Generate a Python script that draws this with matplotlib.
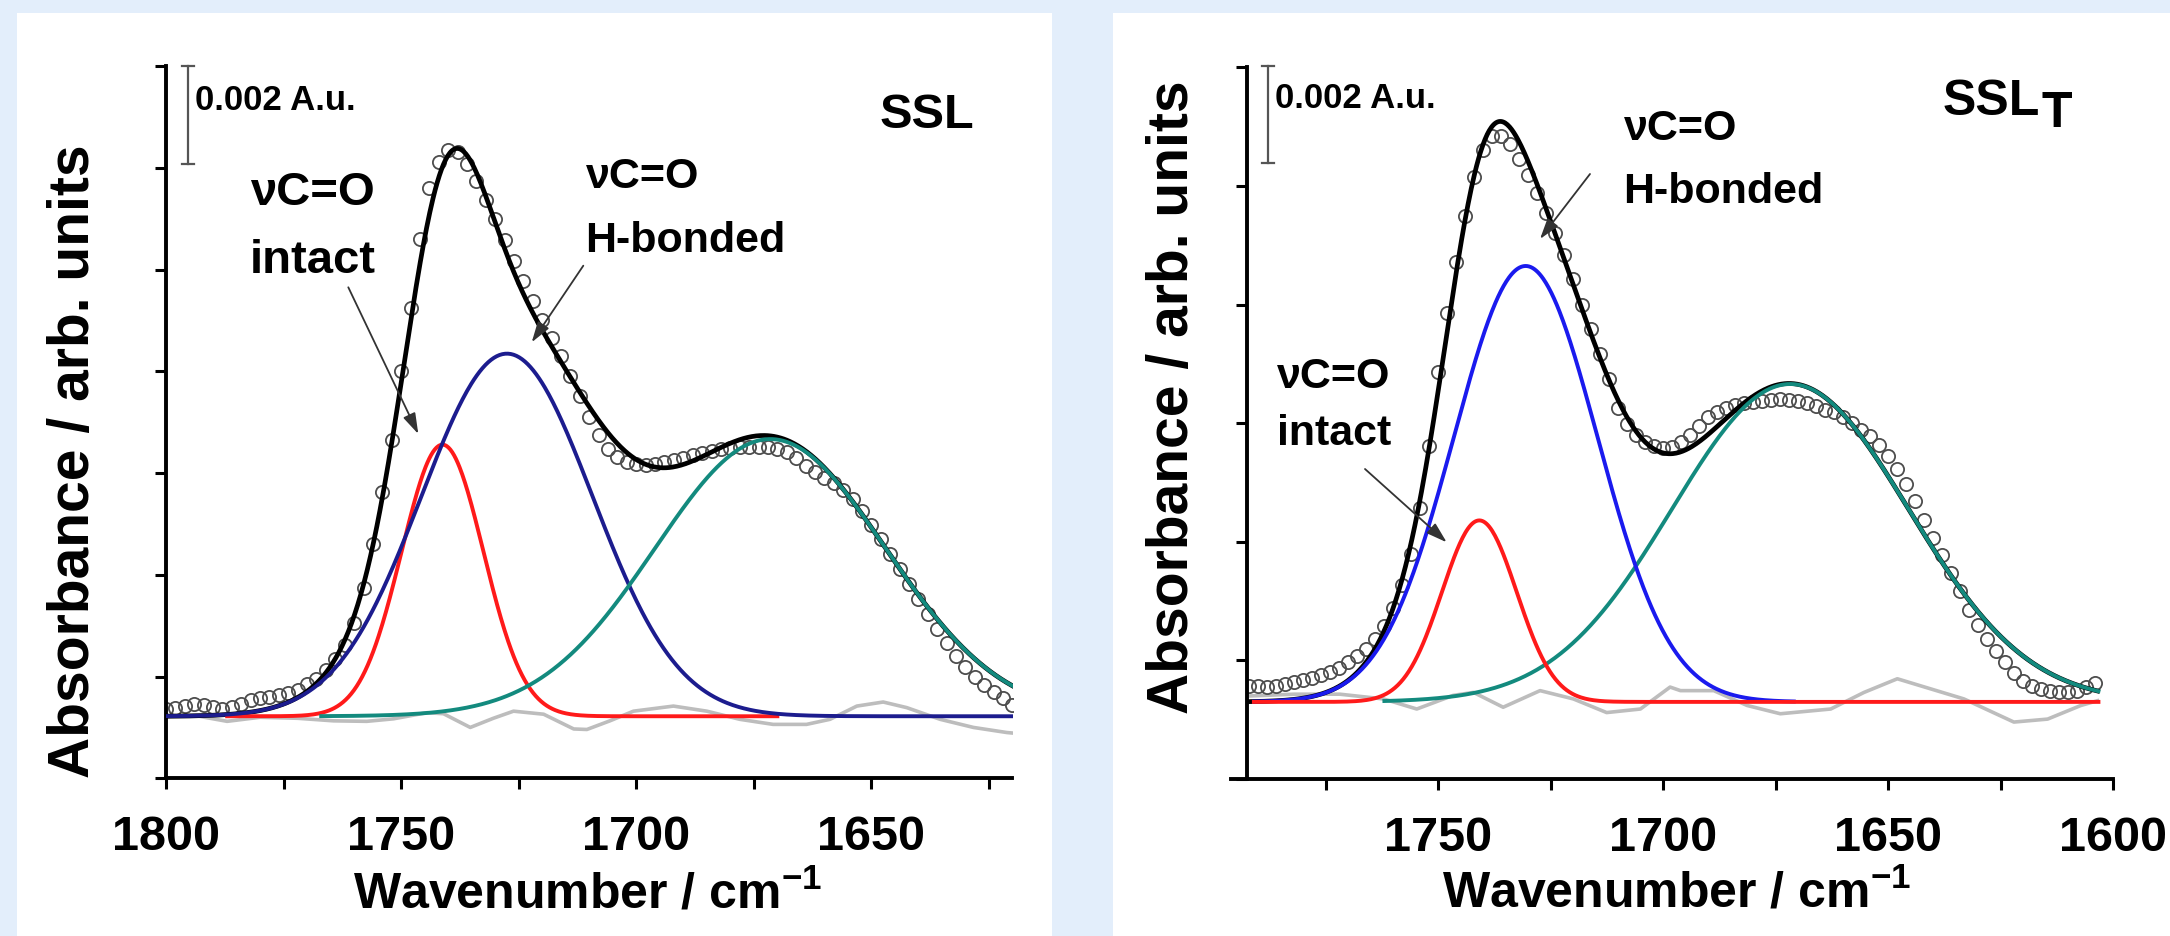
import numpy as np
import matplotlib
matplotlib.use("Agg")
import matplotlib.pyplot as plt
from matplotlib.patches import Rectangle, FancyArrowPatch
from matplotlib.lines import Line2D
from matplotlib.ticker import MultipleLocator

W, H = 2170, 937

# ---------------- SSL (left panel) ----------------
# measured spectrum (open circles), absorbance in 0.001 A.u., every 2 cm-1
ssl_wn = np.arange(1800, 1619, -2)
ssl_abs = [1.36, 1.39, 1.43, 1.46, 1.45, 1.40, 1.37, 1.40, 1.46, 1.53,
           1.58, 1.60, 1.63, 1.68, 1.74, 1.85, 1.96, 2.12, 2.34, 2.62,
           3.05, 3.75, 4.60, 5.63, 6.65, 8.00, 9.25, 10.60, 11.60, 12.12,
           12.35, 12.32, 12.08, 11.75, 11.38, 11.00, 10.58, 10.18, 9.78, 9.38,
           9.02, 8.66, 8.30, 7.92, 7.52, 7.10, 6.76, 6.48, 6.32, 6.22,
           6.18, 6.17, 6.18, 6.21, 6.25, 6.30, 6.36, 6.40, 6.43, 6.47,
           6.50, 6.51, 6.52, 6.52, 6.51, 6.48, 6.42, 6.30, 6.14, 6.02,
           5.91, 5.80, 5.67, 5.49, 5.26, 4.99, 4.70, 4.41, 4.12, 3.83,
           3.53, 3.23, 2.94, 2.67, 2.41, 2.18, 1.99, 1.84, 1.70, 1.57,
           1.45]
# residual (grey line)
ssl_res_wn = [1800, 1793, 1787, 1780, 1772, 1764.4, 1757.3, 1751.6, 1744.5, 1741,
              1735.3, 1730.4, 1726.1, 1719.7, 1713.3, 1710.5, 1705.6, 1700.6, 1692.1, 1685,
              1678, 1670.9, 1663.8, 1658.8, 1653.1, 1647.5, 1642.5, 1635.4, 1628.3, 1621.2, 1620]
ssl_res = [1.20, 1.22, 1.12, 1.20, 1.18, 1.13, 1.12, 1.17, 1.29, 1.27,
           1.00, 1.18, 1.32, 1.26, 0.97, 0.96, 1.13, 1.32, 1.42, 1.32,
           1.16, 1.06, 1.06, 1.16, 1.42, 1.50, 1.39, 1.16, 1.00, 0.90, 0.89]
ssl_base = 1.22
ssl_fit_range = (1800, 1620)
# fitted bands: (centre cm-1, height, sigma cm-1, drawn from, drawn to)
ssl_intact = (1741.2, 5.34, 8.7, 1787, 1670)
ssl_hbond = (1727.5, 7.13, 18.2, 1800, 1620)
ssl_amide = (1671.5, 5.45, 24.5, 1767, 1620)

# ---------------- SSL_T (right panel) ----------------
sslt_wn = np.arange(1792, 1603, -2)
sslt_abs = [1.57, 1.56, 1.55, 1.56, 1.60, 1.63, 1.67, 1.71, 1.76, 1.81,
            1.88, 1.97, 2.07, 2.20, 2.36, 2.58, 2.88, 3.27, 3.80, 4.57,
            5.62, 6.86, 7.86, 8.72, 9.50, 10.15, 10.60, 10.84, 10.85, 10.70,
            10.46, 10.18, 9.88, 9.55, 9.21, 8.84, 8.43, 8.00, 7.58, 7.16,
            6.75, 6.26, 5.98, 5.80, 5.68, 5.61, 5.58, 5.60, 5.68, 5.80,
            5.95, 6.10, 6.18, 6.25, 6.30, 6.34, 6.36, 6.38, 6.39, 6.40,
            6.39, 6.37, 6.34, 6.29, 6.23, 6.18, 6.10, 6.00, 5.89, 5.79,
            5.64, 5.44, 5.22, 4.97, 4.68, 4.37, 4.07, 3.77, 3.47, 3.17,
            2.85, 2.59, 2.36, 2.16, 1.97, 1.79, 1.66, 1.56, 1.51, 1.48,
            1.46, 1.46, 1.49, 1.55, 1.62]
sslt_res_wn = [1792, 1782, 1771.9, 1762.2, 1754.8, 1746.7, 1742.2, 1735.6, 1727.4, 1720,
               1712.6, 1705.1, 1698.5, 1696.2, 1688.8, 1681.4, 1674, 1662.8, 1655.4, 1648,
               1640.6, 1633.2, 1622.1, 1614.6, 1607.2, 1603.5]
sslt_res = [1.40, 1.43, 1.43, 1.35, 1.18, 1.41, 1.46, 1.21, 1.49, 1.35,
            1.12, 1.18, 1.55, 1.49, 1.49, 1.24, 1.10, 1.18, 1.46, 1.69,
            1.52, 1.35, 0.96, 1.01, 1.24, 1.32]
sslt_base = 1.30
sslt_fit_range = (1792, 1603.5)
sslt_intact = (1740.9, 3.06, 8.3, 1791, 1603.3)
sslt_hbond = (1730.6, 7.35, 16.0, 1791, 1671)
sslt_amide = (1671.8, 5.36, 26.3, 1762, 1603.3)

BG = "#e3eefb"
FONT = ["Liberation Sans", "DejaVu Sans"]

plt.rcParams["font.family"] = FONT
plt.rcParams["font.weight"] = "bold"
plt.rcParams["mathtext.fontset"] = "custom"
plt.rcParams["mathtext.rm"] = "Liberation Sans:bold"
plt.rcParams["mathtext.bf"] = "Liberation Sans:bold"
plt.rcParams["mathtext.default"] = "bf"


def fp(x, y):
    # picture pixels (top-left origin) -> figure fraction
    return (x / W, 1 - y / H)


def band(p, x):
    c, h, s = p[:3]
    return h * np.exp(-(x - c) ** 2 / (2 * s ** 2))


def panel(ax, wn, ab, res_wn, res, base, fit_range, bands, colors, order, xlim, ylim):
    ax.plot(res_wn, res, color="#bdbdbd", lw=2.6, zorder=1)
    ax.plot(wn, ab, "o", ms=9.5, mfc="none", mec="#4d4d4d", mew=1.3, zorder=2)
    grid = np.linspace(fit_range[0], fit_range[1], 800)
    fit = base + sum(band(p, grid) for p in bands)
    ax.plot(grid, fit, color="black", lw=3.4, zorder=3)
    for p, col, z in zip(bands, colors, order):
        x = np.linspace(p[3], p[4], 600)
        ax.plot(x, base + band(p, x), color=col, lw=2.8, zorder=z)

    ax.set_xlim(*xlim)
    ax.set_ylim(*ylim)
    ax.patch.set_alpha(0)
    for s in ["top", "right"]:
        ax.spines[s].set_visible(False)
    for s in ["left", "bottom"]:
        ax.spines[s].set_linewidth(2.8)
    ax.xaxis.set_major_locator(MultipleLocator(50))
    ax.xaxis.set_minor_locator(MultipleLocator(25))
    ax.yaxis.set_major_locator(MultipleLocator(2))
    ax.tick_params(axis="both", which="both", direction="out", length=8, width=2.2)
    ax.tick_params(axis="x", labelsize=35, pad=18)
    ax.tick_params(axis="y", labelleft=False)
    for t in ax.get_xticklabels():
        t.set_fontweight("bold")
    ax.set_xlabel("Wavenumber / cm$^{-1}$", fontsize=36, fontweight="bold")
    ax.set_ylabel("Absorbance / arb. units", fontsize=41, fontweight="bold")


fig = plt.figure(figsize=(W / 100, H / 100), dpi=100)
fig.patch.set_facecolor(BG)
fig.add_artist(Rectangle(fp(17, 937), (1052 - 17) / W, (937 - 14) / H,
                         transform=fig.transFigure, fc="white", ec="none", zorder=0))
fig.add_artist(Rectangle(fp(1113, 937), (2170 - 1113) / W, (937 - 14) / H,
                         transform=fig.transFigure, fc="white", ec="none", zorder=0))

axL = fig.add_axes([166 / W, 157.7 / H, 846.5 / W, 712 / H])
panel(axL, ssl_wn, ssl_abs, ssl_res_wn, ssl_res, ssl_base, ssl_fit_range,
      [ssl_intact, ssl_hbond, ssl_amide], ["#ff1a1a", "#1c1c8e", "#138a7e"], [4, 5, 6],
      (1800, 1620), (0, 14))
axL.xaxis.set_label_coords(0.4985, -0.127)
axL.yaxis.set_label_coords(-0.0768, 0.447)

axR = fig.add_axes([1246.7 / W, 157 / H, 866.6 / W, 711.7 / H])
panel(axR, sslt_wn, sslt_abs, sslt_res_wn, sslt_res, sslt_base, sslt_fit_range,
      [sslt_intact, sslt_hbond, sslt_amide], ["#ff1a1a", "#1a1aee", "#138a7e"], [6, 5, 4],
      (1792.6, 1600), (0, 12))
axR.spines["bottom"].set_bounds(1796, 1600)
axR.xaxis.set_label_coords(0.496, -0.125)
axR.yaxis.set_label_coords(-0.0539, 0.538)


def scale_bar(x, y0, y1):
    kw = dict(transform=fig.transFigure, color="#555555", lw=1.6)
    fig.add_artist(Line2D([x / W, x / W], [1 - y0 / H, 1 - y1 / H], **kw))
    for y in (y0, y1):
        fig.add_artist(Line2D([(x - 6) / W, (x + 6) / W], [1 - y / H, 1 - y / H], **kw))


def label(x, y, s, size):
    fig.text(*fp(x, y), s, fontsize=size, fontweight="bold", ha="left", va="baseline")


def arrow(tail, tip):
    fig.add_artist(FancyArrowPatch(
        fp(*tail), fp(*tip), transform=fig.transFigure,
        arrowstyle="-|>,head_length=0.7,head_width=0.22", mutation_scale=18,
        color="#333333", lw=1.3, shrinkA=0, shrinkB=0, zorder=10))


# left panel annotations
scale_bar(188.3, 66.7, 165)
label(195, 110, "0.002 A.u.", 25)
label(250, 205, "νC=O", 34)
label(250, 273, "intact", 34)
label(586, 188, "νC=O", 31)
label(585, 251.7, "H-bonded", 31)
label(880, 128.3, "SSL", 35)
arrow((348.3, 288.3), (418.3, 435))
arrow((583.3, 266.7), (531.7, 343.3))

# right panel annotations
scale_bar(1268.3, 67.3, 164)
label(1275, 108, "0.002 A.u.", 25)
label(1624, 140, "νC=O", 31)
label(1623, 203, "H-bonded", 31)
label(1277, 388, "νC=O", 31)
label(1277, 445, "intact", 31)
label(1943, 115, "SSL", 36)
label(2041, 126.7, "T", 36)
arrow((1590, 175), (1540, 240))
arrow((1365, 470), (1446.7, 543.3))

fig.savefig("out.png", dpi=100, facecolor=BG)
